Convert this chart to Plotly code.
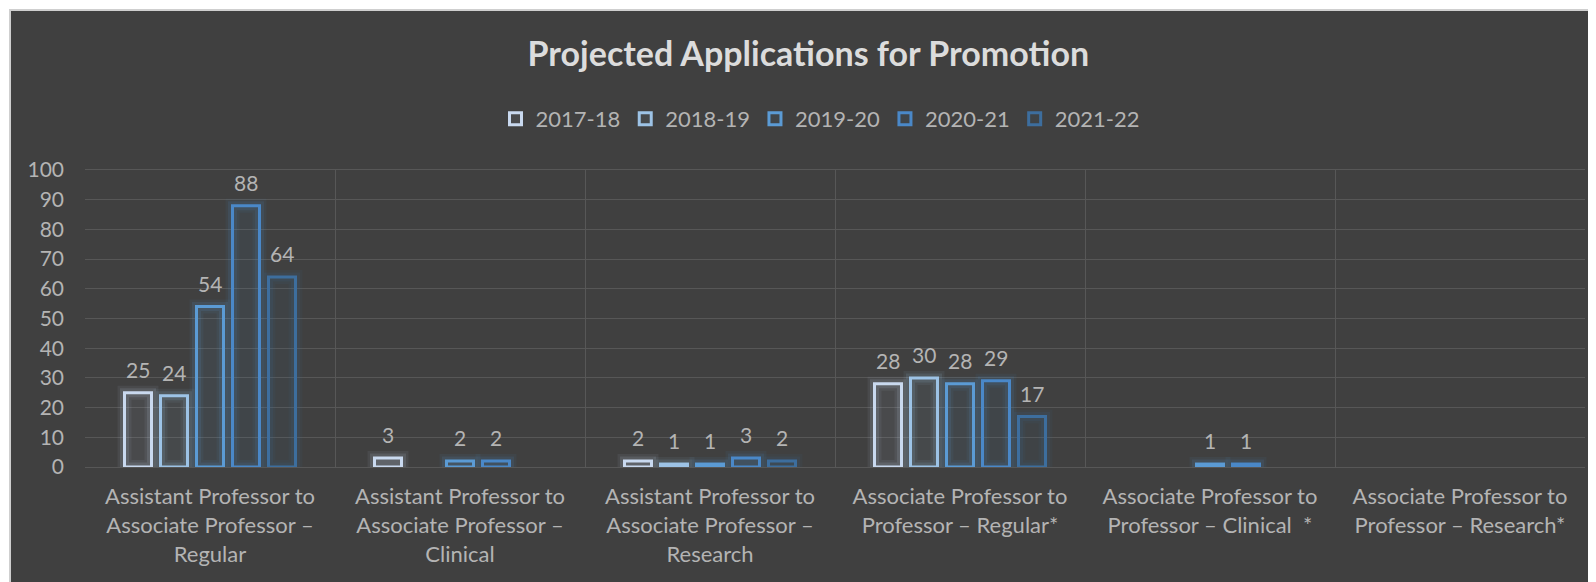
import plotly.graph_objects as go

categories = [
    "Assistant Professor to<br>Associate Professor –<br>Regular",
    "Assistant Professor to<br>Associate Professor –<br>Clinical",
    "Assistant Professor to<br>Associate Professor –<br>Research",
    "Associate Professor to<br>Professor – Regular*",
    "Associate Professor to<br>Professor – Clinical  *",
    "Associate Professor to<br>Professor – Research*",
]
series_names = ["2017-18", "2018-19", "2019-20", "2020-21", "2021-22"]
values_2017_18 = [25, 3, 2, 28, None, None]
values_2018_19 = [24, None, 1, 30, None, None]
values_2019_20 = [54, 2, 1, 28, 1, None]
values_2020_21 = [88, 2, 3, 29, 1, None]
values_2021_22 = [64, None, 2, 17, None, None]
series_values = [values_2017_18, values_2018_19, values_2019_20, values_2020_21, values_2021_22]
series_colors = ["#c9d9ef", "#9dc3e6", "#5b9bd5", "#4a88c8", "#3d6e9e"]
y_ticks = [0, 10, 20, 30, 40, 50, 60, 70, 80, 90, 100]

FONT = "Lato, 'Open Sans', sans-serif"
TXT = "#b4b4b4"
BG = "#404040"
GRID = "#575757"

W, H = 1588, 574
ML, MR, MT, MB = 77, 11, 162, 115
PW = W - ML - MR
PH = H - MT - MB
BARGAP, BARGROUPGAP = 0.28, 0.25


def rgba(hex_color, a):
    h = hex_color.lstrip("#")
    r, g, b = int(h[0:2], 16), int(h[2:4], 16), int(h[4:6], 16)
    return f"rgba({r},{g},{b},{a})"


fig = go.Figure()
n = len(series_names)
cat_px = PW / len(categories)
slot_px = cat_px * (1 - BARGAP) / n
for i, (name, vals, col) in enumerate(zip(series_names, series_values, series_colors)):
    # soft glow behind each bar
    for w, a in ((14, 0.07), (9, 0.12)):
        fig.add_trace(go.Bar(
            x=categories, y=vals, offsetgroup=str(i), showlegend=False, hoverinfo="skip",
            marker=dict(color="rgba(0,0,0,0)", line=dict(color=rgba(col, a), width=w)),
        ))
    fig.add_trace(go.Bar(
        x=categories, y=vals, name=name, offsetgroup=str(i),
        marker=dict(color=rgba(col, 0.07), line=dict(color=col, width=3)),
    ))
    # data labels, positioned from the data values
    for c, v in zip(categories, vals):
        if v is None:
            continue
        fig.add_annotation(
            x=c, y=v, xref="x", yref="y", text=str(v), showarrow=False,
            xshift=(i - (n - 1) / 2) * slot_px, yshift=9, yanchor="bottom",
            font=dict(family=FONT, size=21, color=TXT),
        )

fig.update_layout(
    width=W, height=H,
    margin=dict(l=ML, r=MR, t=MT, b=MB),
    paper_bgcolor="white", plot_bgcolor=BG,
    barmode="group", bargap=BARGAP, bargroupgap=BARGROUPGAP,
    title=dict(text="<b>Projected Applications for Promotion</b>", x=0.504, xanchor="center",
               y=1 - 46 / H, yanchor="middle",
               font=dict(family=FONT, size=34, color="#dcdcdc")),
    legend=dict(orientation="h", x=0.49, xanchor="center", y=(459 - 111) / PH,
                yanchor="middle", font=dict(family=FONT, size=22, color=TXT),
                bgcolor="rgba(0,0,0,0)", traceorder="normal"),
    font=dict(family=FONT, color=TXT),
    showlegend=True,
)

fig.update_xaxes(
    showgrid=True, gridcolor=GRID, gridwidth=1, ticks="", showline=True,
    linecolor=GRID, mirror=True, tickson="boundaries", ticklabelstandoff=10,
    tickfont=dict(family=FONT, size=22, color=TXT),
)
fig.update_yaxes(
    range=[0, 100], tickvals=y_ticks, showgrid=True, gridcolor=GRID, gridwidth=1,
    zeroline=False, showline=False, ticks="", ticklabelstandoff=20,
    tickfont=dict(family=FONT, size=21, color=TXT),
)

fig.add_shape(type="rect", xref="paper", yref="paper", layer="below",
              x0=(2 - ML) / PW, x1=1.05, y0=-0.6, y1=(H - MB - 2) / PH,
              fillcolor=BG, line=dict(color="#cfcfcf", width=2))

fig.write_html("out.html")
